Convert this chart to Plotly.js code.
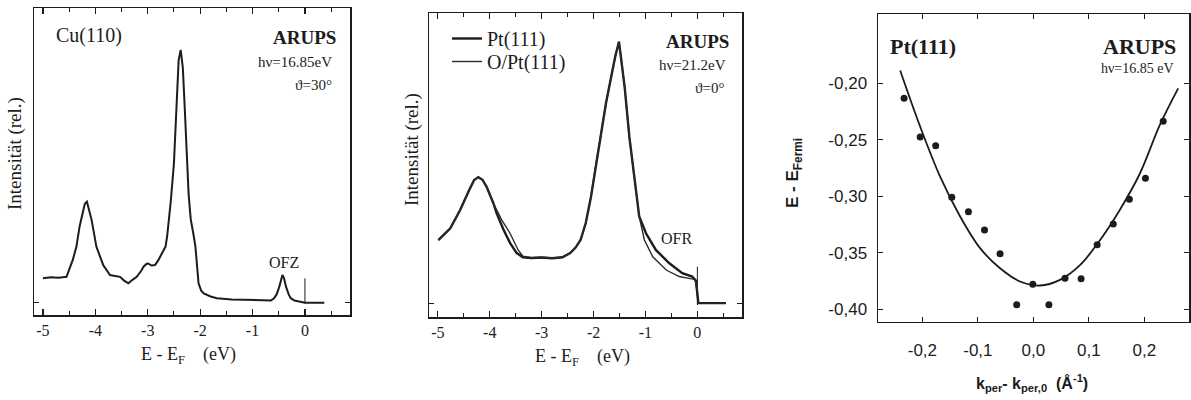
<!DOCTYPE html>
<html>
<head>
<meta charset="utf-8">
<script src="https://cdn.plot.ly/plotly-3.0.1.min.js"></script>
<style>html,body{margin:0;padding:0;background:#fff}#chart{width:1191px;height:400px}</style>
</head>
<body>
<div id="chart"></div>
<script>
// ---------- Data ----------
// Panel 1: Cu(110) ARUPS spectrum
const cuE = [-5.0,-4.85,-4.7,-4.55,-4.43,-4.36,-4.30,-4.24,-4.20,-4.16,-4.12,-4.07,-3.98,-3.85,-3.72,-3.62,-3.53,-3.45,-3.37,-3.29,-3.21,-3.12,-3.08,-3.02,-2.99,-2.93,-2.86,-2.80,-2.73,-2.66,-2.63,-2.56,-2.50,-2.47,-2.43,-2.41,-2.37,-2.33,-2.30,-2.28,-2.25,-2.22,-2.18,-2.15,-2.12,-2.09,-2.06,-2.03,-1.98,-1.93,-1.8,-1.68,-1.4,-1.04,-0.8,-0.65,-0.59,-0.54,-0.49,-0.45,-0.43,-0.40,-0.36,-0.31,-0.27,-0.2,-0.1,0,0.15,0.37];
const cuI = [9.4,9.8,9.6,10.0,16.7,22,30,36,39,39.8,37,32.5,22,14.7,10.7,10.2,10.0,8.5,7.4,8.8,10,12.5,14,15.2,15.3,14.5,14.7,16.5,19.3,22,26,40,55,67,85,96,100,93,80,69.6,55,43,33,30,26,22,14,7.4,4.5,3.4,2.2,1.5,1.0,0.8,0.5,0.6,1.5,3,6,9.5,10.7,9.5,6,3,1.5,0.6,0.2,-0.3,-0.3,-0.3];
const cuMarkE = [0, 0];
const cuMarkI = [-0.5, 9.4];

// Panel 2: Pt(111) and O/Pt(111)
const ptE = [-4.99,-4.76,-4.57,-4.45,-4.38,-4.30,-4.22,-4.14,-4.06,-3.93,-3.87,-3.74,-3.61,-3.48,-3.36,-3.2,-3.0,-2.8,-2.6,-2.45,-2.35,-2.25,-2.15,-2.05,-1.95,-1.85,-1.76,-1.65,-1.58,-1.51,-1.45,-1.40,-1.31,-1.21,-1.12,-0.99,-0.80,-0.54,-0.29,-0.10,-0.03,0.0,0.02,0.3,0.55];
const ptI = [24.5,29,36,41.5,44.3,47.5,48.6,47.6,44.9,38.6,34.9,28.7,23.4,19.5,17.9,17.6,17.8,17.5,17.9,19.5,21.5,24.5,31,41,54,66,77,88,95,100.5,92,83,64,47.5,33.5,27.1,20.7,15.6,11.8,10.5,9.0,4,0.3,0.3,0.3];
const optE = [-4.99,-4.76,-4.57,-4.45,-4.38,-4.30,-4.22,-4.14,-4.06,-3.93,-3.77,-3.61,-3.45,-3.36,-3.2,-3.0,-2.8,-2.6,-2.45,-2.35,-2.25,-2.15,-2.05,-1.95,-1.85,-1.76,-1.65,-1.58,-1.51,-1.45,-1.40,-1.31,-1.21,-1.12,-1.02,-0.86,-0.60,-0.35,-0.16,-0.06,-0.03,0.0,0.02,0.3,0.55];
const optI = [24.5,29,36,41.5,44.3,47.5,48.6,47.6,44.9,38.6,32.2,27.1,20.6,18.3,17.7,17.9,17.6,17.9,19.5,21.5,24.5,31,41,54,66,77,88,95,100.5,92,83,64,47.5,33.5,24.5,18.1,13.0,10.5,9.8,9.4,8.5,4,0.3,0.3,0.3];
const ptMarkE = [0, 0];
const ptMarkI = [-0.4, 14.3];

// Panel 3: dispersion of Pt(111) state
const kPts = [-0.233,-0.204,-0.176,-0.147,-0.117,-0.088,-0.060,-0.030,-0.001,0.028,0.057,0.086,0.115,0.144,0.173,0.202,0.234];
const ePts = [-0.2135,-0.2477,-0.2554,-0.301,-0.3137,-0.330,-0.351,-0.396,-0.378,-0.396,-0.3726,-0.373,-0.343,-0.3246,-0.3028,-0.2842,-0.2339];
const kFit = [-0.240,-0.204,-0.168,-0.132,-0.096,-0.060,-0.024,0.012,0.048,0.084,0.120,0.156,0.192,0.228,0.261];
const eFit = [-0.189,-0.2386,-0.2828,-0.318,-0.346,-0.3638,-0.3755,-0.379,-0.374,-0.361,-0.339,-0.312,-0.280,-0.237,-0.2047];

// Tick labels
const eVTicks = [-5,-4,-3,-2,-1,0];
const eVTickText = ['-5','-4','-3','-2','-1','0'];
const eVMinor = [-4.5,-3.5,-2.5,-1.5,-0.5,0.5];
const kTicks = [-0.2,-0.1,0,0.1,0.2];
const kTickText = ['-0,2','-0,1','0,0','0,1','0,2'];
const eTicks = [-0.40,-0.35,-0.30,-0.25,-0.20];
const eTickText = ['-0,40','-0,35','-0,30','-0,25','-0,20'];

// ---------- Layout helpers ----------
const W = 1191, H = 400;
const px = x => x / W;
const py = y => 1 - y / H;
const INK = '#1c1c1c';
const SERIF = 'Liberation Serif';
const SANS = 'Liberation Sans';

const traces = [
  {x: cuE, y: cuI, xaxis: 'x', yaxis: 'y', mode: 'lines', line: {color: INK, width: 2}, showlegend: false},
  {x: cuMarkE, y: cuMarkI, xaxis: 'x', yaxis: 'y', mode: 'lines', line: {color: INK, width: 1}, showlegend: false},
  {x: ptE, y: ptI, xaxis: 'x2', yaxis: 'y2', mode: 'lines', name: 'Pt(111)', legend: 'legend', line: {color: INK, width: 2.4}},
  {x: optE, y: optI, xaxis: 'x2', yaxis: 'y2', mode: 'lines', name: 'O/Pt(111)', legend: 'legend2', line: {color: '#2a2a2a', width: 1.4}},
  {x: ptMarkE, y: ptMarkI, xaxis: 'x2', yaxis: 'y2', mode: 'lines', line: {color: INK, width: 1}, showlegend: false},
  {x: kFit, y: eFit, xaxis: 'x3', yaxis: 'y3', mode: 'lines', line: {color: INK, width: 1.8, shape: 'spline'}, showlegend: false},
  {x: kPts, y: ePts, xaxis: 'x3', yaxis: 'y3', mode: 'markers', marker: {color: INK, size: 7}, showlegend: false}
];

const frame = {showline: true, linecolor: INK, linewidth: 1.5, mirror: 'allticks', showgrid: false, zeroline: false, ticks: 'inside', tickcolor: INK};

const evAxis = (dom, anchor) => Object.assign({}, frame, {
  domain: dom, anchor: anchor, range: [-5.17, 0.86],
  tickmode: 'array', tickvals: eVTicks, ticktext: eVTickText, ticklen: 6, tickwidth: 1.2,
  minor: {tickmode: 'array', tickvals: eVMinor, ticks: 'inside', ticklen: 4, tickcolor: INK, tickwidth: 1},
  tickfont: {family: SERIF, size: 16, color: INK}, ticklabelstandoff: 0
});

const legendBase = {xanchor: 'left', yanchor: 'top', bgcolor: 'rgba(0,0,0,0)', borderwidth: 0,
  font: {family: SERIF, size: 20, color: INK}};

const layout = {
  width: W, height: H,
  margin: {l: 0, r: 0, t: 0, b: 0},
  paper_bgcolor: '#fff', plot_bgcolor: '#fff',
  separators: ', ',
  xaxis: evAxis([px(34), px(350)], 'y'),
  yaxis: Object.assign({}, frame, {domain: [py(315), py(8)], anchor: 'x', range: [-5.16, 116.7],
    tickmode: 'array', tickvals: [0], showticklabels: false, ticklen: 5}),
  xaxis2: evAxis([px(429), px(742)], 'y2'),
  yaxis2: Object.assign({}, frame, {domain: [py(317), py(13)], anchor: 'x2', range: [-5, 111.5],
    tickmode: 'array', tickvals: [0], showticklabels: false, ticklen: 5}),
  xaxis3: Object.assign({}, frame, {domain: [px(878), px(1189)], anchor: 'y3', range: [-0.28, 0.2805],
    tickmode: 'array', tickvals: kTicks, ticktext: kTickText, ticklen: 5,
    tickfont: {family: SANS, size: 17, color: INK}, ticklabelstandoff: 12}),
  yaxis3: Object.assign({}, frame, {domain: [py(321.7), py(14)], anchor: 'x3', range: [-0.411, -0.139],
    tickmode: 'array', tickvals: eTicks, ticktext: eTickText, ticklen: 5,
    tickfont: {family: SANS, size: 17, color: INK}, ticklabelstandoff: 6}),
  legend: Object.assign({x: px(447), y: py(19)}, legendBase),
  legend2: Object.assign({x: px(447), y: py(42)}, legendBase),
  annotations: [
    // panel 1
    {text: 'Cu(110)', x: px(54), y: py(35), xanchor: 'left', yanchor: 'middle', font: {family: SERIF, size: 20, color: INK}},
    {text: '<b>ARUPS</b>', x: px(338), y: py(37), xanchor: 'right', yanchor: 'middle', font: {family: SERIF, size: 19, color: INK}},
    {text: 'hν=16.85eV', x: px(334), y: py(62), xanchor: 'right', yanchor: 'middle', font: {family: SERIF, size: 15, color: INK}},
    {text: 'ϑ=30°', x: px(334), y: py(85), xanchor: 'right', yanchor: 'middle', font: {family: SERIF, size: 15, color: INK}},
    {text: 'OFZ', x: px(284), y: py(262), xanchor: 'center', yanchor: 'middle', font: {family: SERIF, size: 16, color: INK}},
    {text: 'Intensität (rel.)', x: px(15), y: py(154), textangle: -90, xanchor: 'center', yanchor: 'middle', font: {family: SERIF, size: 19, color: INK}},
    {text: 'E - E<sub>F</sub>    (eV)', x: px(139), y: py(355), xanchor: 'left', yanchor: 'middle', font: {family: SERIF, size: 18, color: INK}},
    // panel 2
    {text: '<b>ARUPS</b>', x: px(731), y: py(41), xanchor: 'right', yanchor: 'middle', font: {family: SERIF, size: 19, color: INK}},
    {text: 'hν=21.2eV', x: px(728), y: py(65), xanchor: 'right', yanchor: 'middle', font: {family: SERIF, size: 15, color: INK}},
    {text: 'ϑ=0°', x: px(726), y: py(88), xanchor: 'right', yanchor: 'middle', font: {family: SERIF, size: 15, color: INK}},
    {text: 'OFR', x: px(676), y: py(238), xanchor: 'center', yanchor: 'middle', font: {family: SERIF, size: 16, color: INK}},
    {text: 'Intensität (rel.)', x: px(412), y: py(150), textangle: -90, xanchor: 'center', yanchor: 'middle', font: {family: SERIF, size: 19, color: INK}},
    {text: 'E - E<sub>F</sub>    (eV)', x: px(533), y: py(357), xanchor: 'left', yanchor: 'middle', font: {family: SERIF, size: 18, color: INK}},
    // panel 3
    {text: '<b>Pt(111)</b>', x: px(888), y: py(47), xanchor: 'left', yanchor: 'middle', font: {family: SERIF, size: 22, color: INK}},
    {text: '<b>ARUPS</b>', x: px(1178), y: py(47), xanchor: 'right', yanchor: 'middle', font: {family: SERIF, size: 22, color: INK}},
    {text: 'hν=16.85 eV', x: px(1176), y: py(68), xanchor: 'right', yanchor: 'middle', font: {family: SERIF, size: 14, color: INK}},
    {text: '<b>E - E<sub>Fermi</sub></b>', x: px(794), y: py(173), textangle: -90, xanchor: 'center', yanchor: 'middle', font: {family: SANS, size: 17, color: INK}},
    {text: '<b>k<sub>per</sub>- k<sub>per,0</sub>  (Å<sup>-1</sup>)</b>', x: px(1032), y: py(383), xanchor: 'center', yanchor: 'middle', font: {family: SANS, size: 16, color: INK}}
  ].map(a => Object.assign({xref: 'paper', yref: 'paper', showarrow: false}, a))
};

Plotly.newPlot('chart', traces, layout, {staticPlot: true, displayModeBar: false});
</script>
</body>
</html>
